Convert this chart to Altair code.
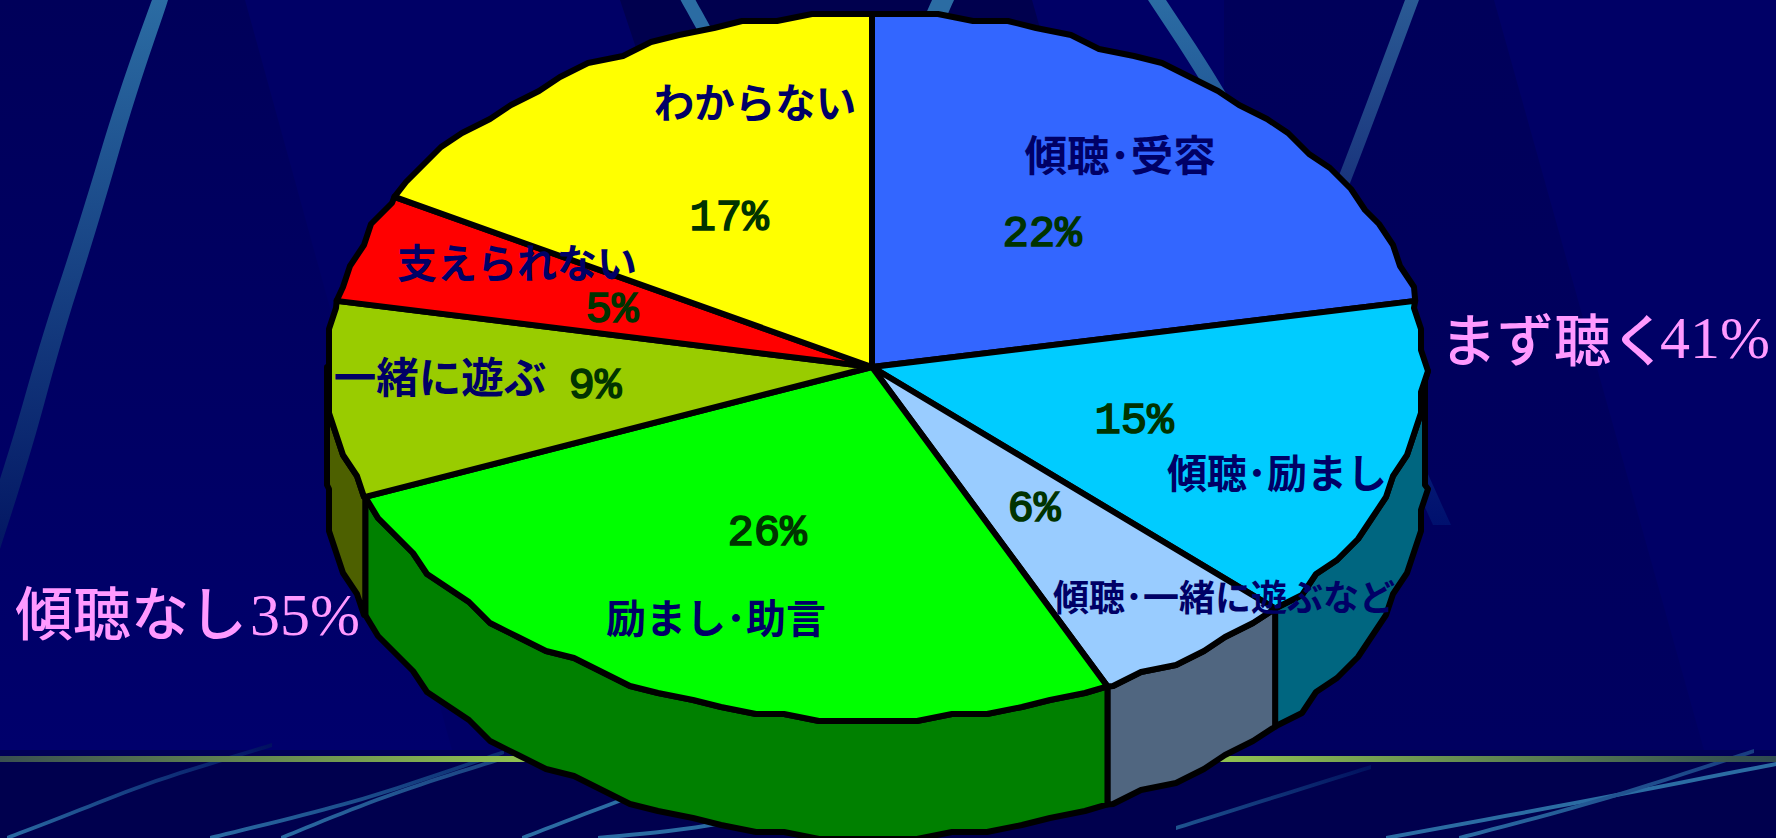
import math
import altair as alt

# Survey answers: share of respondents per category, clockwise from twelve o'clock
categories = ["傾聴･受容", "傾聴･励まし", "傾聴･一緒に遊ぶなど", "励まし･助言", "一緒に遊ぶ", "支えられない", "わからない"]
shares = [22, 15, 6, 26, 9, 5, 17]
top_colors = ["#3366ff", "#00ccff", "#99ccff", "#00ff00", "#99cc00", "#ff0000", "#ffff00"]
side_colors = ["#1a3380", "#006680", "#506680", "#008000", "#4d6000", "#800000", "#808000"]

# Label placement on the canvas (name centre, percentage centre, name font size)
name_xy = [(1120, 158), (1277, 476), (1224, 600), (716, 621), (440, 380), (517, 266), (755, 106)]
pct_xy = [(1042, 233), (1134, 420), (1034, 508), (767, 532), (595, 385), (612, 309), (729, 217)]
name_size = [42.5, 40, 36, 40, 42.5, 40, 40.5]

W, H = 1776, 838
CX, CY, RX_L, RX_R, RY, DEPTH, GRID, STEP = 872, 367, 545, 553, 353, 118, 7, 3.5
NAVY = "#000066"


def exact_rim(deg, drop=0):
    a = math.radians(deg)
    s = math.sin(a)
    return [CX + (RX_R if s > 0 else RX_L) * s, CY - RY * math.cos(a) + drop]


def rim(deg, drop=0):
    """Point on the pie's elliptical edge, snapped to a coarse grid."""
    x, y = exact_rim(deg)
    return [round(x / GRID) * GRID, round(y / GRID) * GRID + drop]


def arc_points(a0, a1, drop=0):
    out = [exact_rim(a0, drop)]
    k = math.floor(a0 / STEP) + 1
    while k * STEP < a1:
        p = rim(k * STEP, drop)
        if p != out[-1]:
            out.append(p)
        k += 1
    out.append(exact_rim(a1, drop))
    return out


def feature(points):
    ring = [list(p) for p in points] + [list(points[0])]
    return {"type": "Feature", "properties": {}, "geometry": {"type": "Polygon", "coordinates": [ring]}}


def shape(points, **mark):
    return alt.Chart(alt.Data(values=[feature(points)])).mark_geoshape(**mark)


def gradient(stops, x1=0, y1=0, x2=1, y2=0):
    return alt.LinearGradient(
        gradient="linear", x1=x1, y1=y1, x2=x2, y2=y2,
        stops=[alt.GradientStop(offset=o, color=c) for o, c in stops],
    )


def smooth(path, rounds=3):
    """Corner-cutting so a streak reads as a curve; end points stay put."""
    for _ in range(rounds):
        out = [path[0]]
        for (x0, y0), (x1, y1) in zip(path, path[1:]):
            out.append([0.75 * x0 + 0.25 * x1, 0.75 * y0 + 0.25 * y1])
            out.append([0.25 * x0 + 0.75 * x1, 0.25 * y0 + 0.75 * y1])
        out.append(path[-1])
        path = out
    return path


def ribbon(path, width, vertical):
    """Thin band following a path; width may taper from start to end."""
    path = smooth(path)
    w0, w1 = width
    n = len(path) - 1
    a, b = [], []
    for i, (x, y) in enumerate(path):
        w = (w0 + (w1 - w0) * i / n) / 2
        if vertical:
            a.append([x - w, y])
            b.append([x + w, y])
        else:
            a.append([x, y - w])
            b.append([x, y + w])
    return a + b[::-1]


layers = []

# Backdrop panels
layers.append(shape([[0, 0], [245, 0], [452, 750], [0, 750]],
                    fill=gradient([(0, "#00005a"), (1, "#00006c")], 0, 0, 0, 1), strokeWidth=0))
layers.append(shape([[1224, 0], [1494, 0], [1704, 750], [1224, 750]],
                    fill=gradient([(0, "#00005a"), (1, "#000060")], 0, 0, 0, 1), strokeWidth=0))
layers.append(shape([[620, 0], [1032, 0], [1100, 240], [700, 240]], fill="#00004e", strokeWidth=0))
layers.append(shape([[0, 750], [W, 750], [W, 757], [0, 757]], fill="#000056", strokeWidth=0))
layers.append(shape([[0, 762], [W, 762], [W, H], [0, H]], fill="#00004e", strokeWidth=0))

# Light streaks on the wall: path, taper, axis, start colour, end colour, fade direction
BLUE = "#2b6ca3"
wall_streaks = [
    ([[160, 0], [125, 100], [88, 226], [51, 340], [20, 453], [-25, 590]], (16, 24), True, BLUE, "#00105e", (0, 0, 0, 1)),
    ([[688, 0], [708, 36]], (15, 15), True, BLUE, BLUE, (0, 0, 0, 1)),
    ([[943, 0], [925, 40]], (22, 22), True, BLUE, BLUE, (0, 0, 0, 1)),
    ([[1157, 0], [1210, 80], [1340, 300], [1442, 525]], (18, 18), True, BLUE, "#00106e", (0, 0, 0, 1)),
    ([[1412, 0], [1344, 182], [1300, 290]], (14, 14), True, "#2a5a94", "#101f70", (0, 0, 0, 1)),
]
for path, taper, vertical, c0, c1, (x1, y1, x2, y2) in wall_streaks:
    layers.append(shape(ribbon(path, taper, vertical),
                        fill=gradient([(0, c0), (1, c1)], x1, y1, x2, y2), strokeWidth=0))

# Reflections on the floor
floor_streaks = [
    ([[7, 838], [85, 808], [156, 780], [272, 745]], BLUE, "#000f60", (0, 1, 1, 0)),
    ([[210, 838], [312, 813], [384, 793], [504, 752]], BLUE, "#0a2a70", (0, 1, 1, 0)),
    ([[281, 838], [357, 807], [424, 783], [504, 758]], BLUE, "#1a4080", (0, 1, 1, 0)),
    ([[522, 838], [616, 802], [700, 770]], BLUE, BLUE, (0, 1, 1, 0)),
    ([[598, 838], [700, 828], [820, 805]], BLUE, BLUE, (0, 1, 1, 0)),
    ([[1176, 828], [1371, 767]], "#1f5590", "#00105e", (0, 1, 1, 0)),
    ([[1386, 838], [1560, 806], [1776, 764]], BLUE, BLUE, (0, 1, 1, 0)),
    ([[1459, 838], [1597, 802], [1754, 751]], BLUE, "#183c80", (0, 1, 1, 0)),
]
for path, c0, c1, (x1, y1, x2, y2) in floor_streaks:
    layers.append(shape(ribbon(path, (4, 4), False),
                        fill=gradient([(0, c0), (1, c1)], x1, y1, x2, y2), strokeWidth=0))

# Horizon line, brightest towards the middle
layers.append(shape([[0, 756], [W, 756], [W, 762], [0, 762]],
                    fill=gradient([(0, "#3a5050"), (0.29, "#8fc050"), (0.69, "#8fc050"), (1, "#2f4a50")]),
                    strokeWidth=0))

# Pie: side walls on the lower half, then the top face
angles = []
total = 0
for s in shares:
    angles.append((total * 3.6, (total + s) * 3.6))
    total += s

for (a0, a1), color in zip(angles, side_colors):
    lo, hi = max(a0, 90), min(a1, 270)
    if lo < hi:
        top_edge = arc_points(lo, hi)
        bottom_edge = arc_points(lo, hi, DEPTH)
        layers.append(shape(top_edge + bottom_edge[::-1], fill=color, stroke="black",
                            strokeWidth=6, strokeJoin="round"))

for (a0, a1), color in zip(angles, top_colors):
    layers.append(shape([[CX, CY]] + arc_points(a0, a1), fill=color, stroke="black",
                        strokeWidth=6, strokeJoin="round"))


def text_layer(x, y, label, **mark):
    data = alt.Data(values=[{"lon": x, "lat": y, "label": label}])
    return alt.Chart(data).mark_text(**mark).encode(
        longitude="lon:Q", latitude="lat:Q", text="label:N"
    )


for (x, y), name, size in zip(name_xy, categories, name_size):
    layers.append(text_layer(x, y, name, font="Noto Sans CJK JP", fontWeight="bold", fontSize=size,
                             color=NAVY, align="center", baseline="middle"))

for (x, y), value in zip(pct_xy, shares):
    layers.append(text_layer(x, y, f"{value}%", font="Liberation Mono", fontSize=44,
                             color="#003300", stroke="#003300", strokeWidth=1.6,
                             align="center", baseline="middle"))

# Group totals beside the pie
PINK = "#ff99ff"
layers.append(text_layer(1440, 344, "まず聴く", font="Noto Sans CJK JP", fontWeight=500, fontSize=57,
                         color=PINK, align="left", baseline="middle"))
layers.append(text_layer(1660, 340, "41%", font="Liberation Serif", fontSize=60, color=PINK,
                         align="left", baseline="middle"))
layers.append(text_layer(15, 618, "傾聴なし", font="Noto Sans CJK JP", fontWeight=500, fontSize=58,
                         color=PINK, align="left", baseline="middle"))
layers.append(text_layer(250, 617, "35%", font="Liberation Serif", fontSize=60, color=PINK,
                         align="left", baseline="middle"))

chart = (
    alt.layer(*layers)
    .project(type="identity", scale=1, translate=[0, 0])
    .properties(width=W, height=H, background=NAVY, padding=0, autosize=alt.AutoSizeParams(type="none"))
    .configure_view(stroke=None)
)

chart.save("out.html", embed_options={"renderer": "svg", "actions": False})
